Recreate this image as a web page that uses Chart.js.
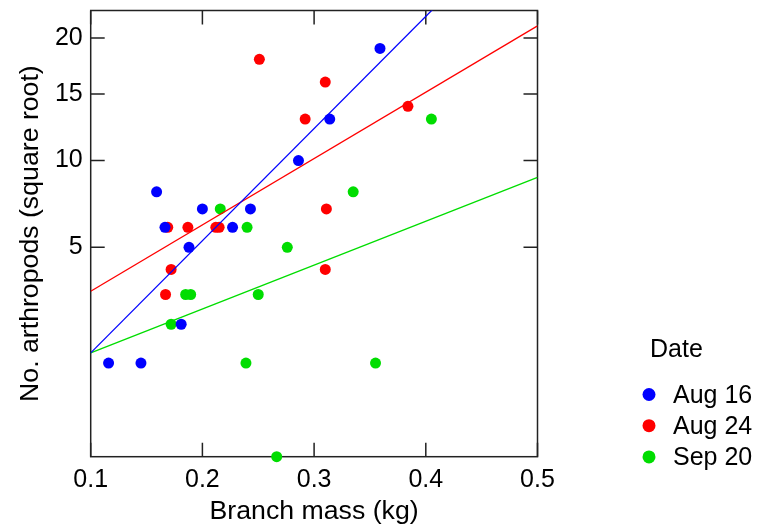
<!DOCTYPE html>
<html>
<head>
<meta charset="utf-8">
<script src="https://cdn.jsdelivr.net/npm/chart.js@4/dist/chart.umd.min.js"></script>
<style>
  html, body { margin: 0; padding: 0; background: #fff; }
  #wrap { width: 758px; height: 529px; }
</style>
</head>
<body>
<div id="wrap"><canvas id="chart"></canvas></div>
<script>
// branch mass (kg) and arthropod counts per sampling date
const massAug16 = [0.116, 0.145, 0.159, 0.1665, 0.181, 0.188, 0.200, 0.227, 0.243, 0.286, 0.314, 0.359];
const countAug16 = [1, 1, 8, 6, 2, 5, 7, 6, 7, 10, 13, 19];
const massAug24 = [0.167, 0.169, 0.172, 0.187, 0.212, 0.215, 0.251, 0.292, 0.310, 0.310, 0.311, 0.384];
const countAug24 = [3, 6, 4, 6, 6, 6, 18, 13, 16, 4, 7, 14];
const massSep20 = [0.172, 0.185, 0.1895, 0.216, 0.239, 0.240, 0.250, 0.2665, 0.276, 0.335, 0.355, 0.405];
const countSep20 = [2, 3, 3, 7, 1, 6, 3, 0, 5, 8, 1, 13];

// fitted lines (straight on the square-root axis), ends at 0.1 and 0.5 kg
const fitMass = [0.1, 0.5];
const fitAug16 = [1.23, 34.8];
const fitAug24 = [3.12, 21.16];
const fitSep20 = [1.23, 8.9];

const xTicks = [0.1, 0.2, 0.3, 0.4, 0.5];
const yTicks = [5, 10, 15, 20];
const dateLabels = ["Aug 16", "Aug 24", "Sep 20"];

const dateColors = ["#0000ff", "#ff0000", "#00dd00"];
const fontFamily = "'Liberation Sans', Arial, sans-serif";

Chart.defaults.font.family = fontFamily;
Chart.defaults.color = "#000";

// linear scale that places values by their square root
class SqrtScale extends Chart.LinearScale {
  getPixelForValue(value) {
    if (value === null || isNaN(value)) return NaN;
    const lo = Math.sqrt(Math.max(this.min, 0));
    const hi = Math.sqrt(this.max);
    return this.getPixelForDecimal((Math.sqrt(Math.max(value, 0)) - lo) / (hi - lo));
  }
  getValueForPixel(pixel) {
    const lo = Math.sqrt(Math.max(this.min, 0));
    const hi = Math.sqrt(this.max);
    const s = lo + this.getDecimalForPixel(pixel) * (hi - lo);
    return s * s;
  }
}
SqrtScale.id = "sqrt";
SqrtScale.defaults = {};
Chart.register(SqrtScale);

const toPoints = (xs, ys) => xs.map((x, i) => ({ x, y: ys[i] }));

const pointSet = (label, xs, ys, color) => ({
  type: "scatter",
  label,
  data: toPoints(xs, ys),
  backgroundColor: color,
  borderWidth: 0,
  pointRadius: 5.5,
  clip: false,
  order: 2,
});

const fitSet = (ys, color) => ({
  type: "line",
  data: toPoints(fitMass, ys),
  borderColor: color,
  borderWidth: 1.3,
  pointRadius: 0,
  fill: false,
  order: 1,
});

// box around the plot with inward tick marks on all four sides
const framePlugin = {
  id: "frame",
  beforeDatasetsDraw(chart) {
    const { ctx, chartArea: a, scales } = chart;
    const len = 14;
    ctx.save();
    ctx.strokeStyle = "#222";
    ctx.lineWidth = 1.5;
    ctx.strokeRect(a.left, a.top, a.right - a.left, a.bottom - a.top);
    ctx.beginPath();
    scales.x.ticks.forEach((t) => {
      const px = scales.x.getPixelForValue(t.value);
      ctx.moveTo(px, a.bottom);
      ctx.lineTo(px, a.bottom - len);
      ctx.moveTo(px, a.top);
      ctx.lineTo(px, a.top + len);
    });
    scales.y.ticks.forEach((t) => {
      const py = scales.y.getPixelForValue(t.value);
      ctx.moveTo(a.left, py);
      ctx.lineTo(a.left + len, py);
      ctx.moveTo(a.right, py);
      ctx.lineTo(a.right - len, py);
    });
    ctx.stroke();
    ctx.restore();
  },
};

// "Date" key at the right of the plot
const dateKey = {
  id: "dateKey",
  afterDraw(chart) {
    const { ctx } = chart;
    ctx.save();
    ctx.font = `25px ${fontFamily}`;
    ctx.fillStyle = "#000";
    ctx.textBaseline = "alphabetic";
    ctx.fillText("Date", 650, 357);
    dateLabels.forEach((label, i) => {
      const cy = 394.5 + i * 31.2;
      ctx.beginPath();
      ctx.arc(649, cy, 6.5, 0, Math.PI * 2);
      ctx.fillStyle = dateColors[i];
      ctx.fill();
      ctx.fillStyle = "#000";
      ctx.fillText(label, 673, cy + 8);
    });
    ctx.restore();
  },
};

new Chart(document.getElementById("chart"), {
  data: {
    datasets: [
      pointSet(dateLabels[0], massAug16, countAug16, dateColors[0]),
      pointSet(dateLabels[1], massAug24, countAug24, dateColors[1]),
      pointSet(dateLabels[2], massSep20, countSep20, dateColors[2]),
      fitSet(fitAug16, dateColors[0]),
      fitSet(fitAug24, dateColors[1]),
      fitSet(fitSep20, dateColors[2]),
    ],
  },
  options: {
    responsive: true,
    maintainAspectRatio: false,
    animation: false,
    layout: { padding: { top: 10.5, right: 220.5, bottom: 0, left: 0 } },
    plugins: {
      legend: { display: false },
      tooltip: { enabled: false },
    },
    scales: {
      x: {
        type: "linear",
        min: 0.1,
        max: 0.5,
        afterBuildTicks: (scale) => {
          scale.ticks = xTicks.map((value) => ({ value }));
        },
        afterFit: (scale) => {
          scale.height = 72.3;
          scale.paddingLeft = 0;
          scale.paddingRight = 0;
        },
        grid: { display: false, drawTicks: false },
        border: { display: false },
        ticks: {
          padding: 8,
          font: { size: 25 },
          color: "#000",
          callback: (v) => v.toFixed(1),
        },
        title: {
          display: true,
          text: "Branch mass (kg)",
          font: { size: 26.7 },
          color: "#000",
          padding: { top: 0, bottom: 1.5 },
        },
      },
      y: {
        type: "sqrt",
        min: 0,
        max: 22.7,
        afterBuildTicks: (scale) => {
          scale.ticks = yTicks.map((value) => ({ value }));
        },
        afterFit: (scale) => {
          scale.width = 90.7;
          scale.paddingTop = 0;
          scale.paddingBottom = 0;
        },
        grid: { display: false, drawTicks: false },
        border: { display: false },
        ticks: {
          padding: 8,
          font: { size: 25 },
          color: "#000",
          callback: (v) => String(v),
        },
        title: {
          display: true,
          text: "No. arthropods (square root)",
          font: { size: 26.7 },
          color: "#000",
          padding: { top: 14.5, bottom: 0 },
        },
      },
    },
  },
  plugins: [framePlugin, dateKey],
});
</script>
</body>
</html>
